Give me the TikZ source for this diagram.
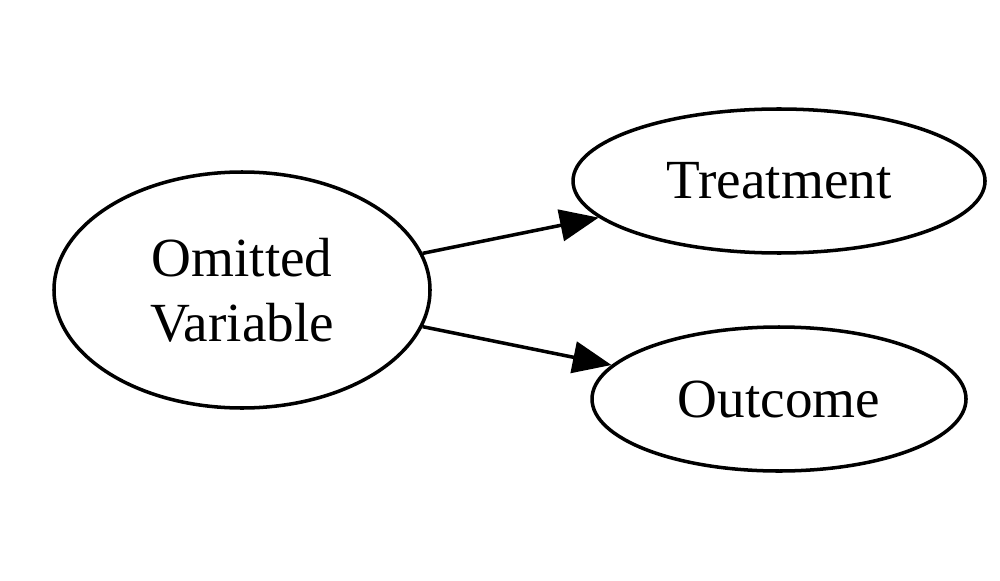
\documentclass[tikz,border=0pt]{standalone}
\usepackage{fontspec}
\setmainfont{Liberation Serif}
\usetikzlibrary{shapes.geometric,arrows.meta}
\begin{document}
\begin{tikzpicture}[x=1cm,y=1cm,
  vnode/.style={draw, line width=1pt, ellipse, inner sep=0pt, align=center,
    font=\fontsize{15.7}{18.5}\selectfont},
  edge/.style={line width=1pt, -{Triangle[length=11pt,width=9pt]}}]
\useasboundingbox (0,0) rectangle (10,5.8);
\node[vnode, minimum width=3.76cm, minimum height=2.36cm] (ov) at (2.42,2.90) {Omitted\\Variable};
\node[vnode, minimum width=4.12cm, minimum height=1.44cm] (tr) at (7.79,3.99) {Treatment};
\node[vnode, minimum width=3.74cm, minimum height=1.44cm] (oc) at (7.79,1.81) {Outcome};
\draw[edge] (ov) -- (tr);
\draw[edge] (ov) -- (oc);
\end{tikzpicture}
\end{document}
